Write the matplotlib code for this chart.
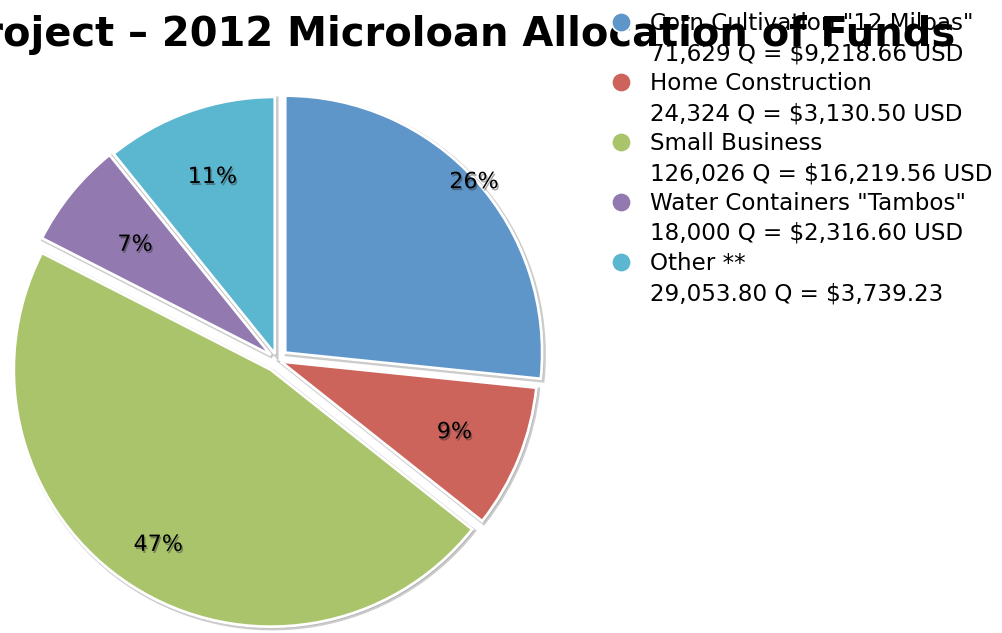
import matplotlib
matplotlib.use('Agg')
import numpy as np
import matplotlib.pyplot as plt
import matplotlib.patheffects as pe
from matplotlib.lines import Line2D

# data (quetzales)
categories = ['Corn Cultivation "12 Milpas"', 'Home Construction', 'Small Business',
              'Water Containers "Tambos"', 'Other **']
amounts_q = [71629, 24324, 126026, 18000, 29053.80]
amount_text = ['71,629 Q = \\$9,218.66 USD', '24,324 Q = \\$3,130.50 USD',
               '126,026 Q = \\$16,219.56 USD', '18,000 Q = \\$2,316.60 USD',
               '29,053.80 Q = \\$3,739.23']
pct_labels = ['26%', '9%', '47%', '7%', '11%']
colors = ['#5F96C9', '#CD645C', '#AAC46C', '#9279AF', '#5AB7CF']
title = 'Project \u2013 2012 Microloan Allocation of Funds'

W, H = 1003, 633
fig = plt.figure(figsize=(W / 100, H / 100), dpi=100)
ax = fig.add_axes([0, 0, 1, 1])

# explode offsets in pixels (axes data units are pixels here)
explode = [11, 4, 11.5, 8, 6.5]
wedges, _ = ax.pie(amounts_q, colors=colors, explode=explode, startangle=90,
                   counterclock=False, center=(277, H - 360), radius=257,
                   wedgeprops=dict(edgecolor='white', linewidth=2),
                   shadow=dict(ox=1.2, oy=-1.2, facecolor='0.5', edgecolor='0.5',
                               alpha=0.4, linewidth=3))
ax.set_xlim(0, W)
ax.set_ylim(0, H)
ax.axis('off')

# percentage labels, distance from slice apex as fraction of radius
label_r = [0.99, 0.73, 0.81, 0.68, 0.73]
for w, txt, d in zip(wedges, pct_labels, label_r):
    th = np.deg2rad((w.theta1 + w.theta2) / 2)
    cx, cy = w.center
    ax.text(cx + d * w.r * np.cos(th), cy + d * w.r * np.sin(th), txt,
            ha='center', va='center', fontsize=16, color='black',
            path_effects=[pe.withSimplePatchShadow(offset=(1, -1.5),
                                                   shadow_rgbFace='0.15', alpha=0.4)])

# title (runs off the left edge like the original)
fig.text(955 / W, 1 - 46 / H, title, ha='right', va='baseline',
         fontsize=28.8, fontweight='bold', color='black', zorder=3)

# legend drawn by hand: marker aligned with first line of each entry
for i, (name, amt, c) in enumerate(zip(categories, amount_text, colors)):
    y0 = 22 + 60 * i
    fig.add_artist(Line2D([621 / W], [1 - y0 / H], marker='o', ls='',
                          markersize=14, markerfacecolor=c, markeredgecolor='white',
                          markeredgewidth=1.2, transform=fig.transFigure, zorder=5))
    fig.text(650 / W, 1 - (y0 + 8) / H, name, ha='left', va='baseline',
             fontsize=16.6, color='black', zorder=5)
    fig.text(650 / W, 1 - (y0 + 38) / H, amt, ha='left', va='baseline',
             fontsize=16.6, color='black', zorder=5)

fig.savefig('out.png', dpi=100)
